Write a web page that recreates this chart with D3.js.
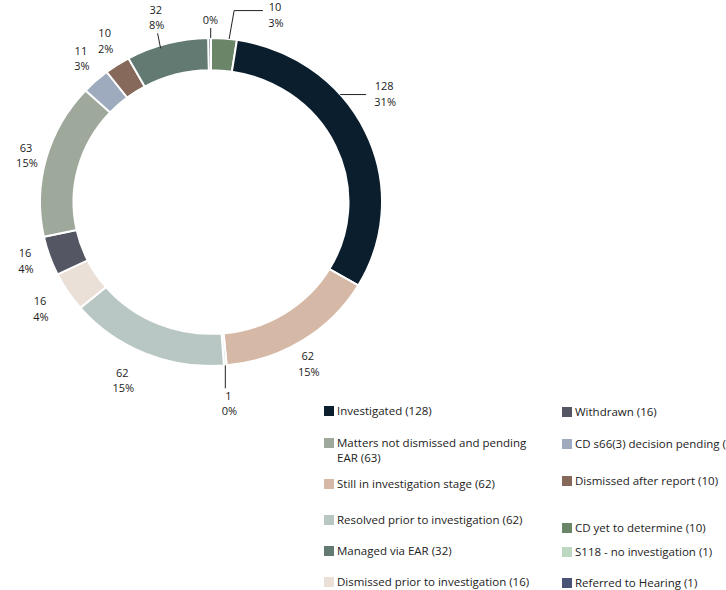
<!DOCTYPE html>
<html>
<head>
<meta charset="utf-8">
<script src="https://cdn.jsdelivr.net/npm/d3@7"></script>
<style>
  html, body { margin: 0; padding: 0; background: #ffffff; }
  svg { display: block; }
  text { font-family: "Open Sans", "Noto Sans", sans-serif; fill: #222; }
</style>
</head>
<body>
<svg id="chart" width="726" height="590"></svg>
<script>
// ---- data (slice order, clockwise from 12 o'clock) ----
const categories = [
  "CD yet to determine",
  "Investigated",
  "Still in investigation stage",
  "S118 - no investigation",
  "Resolved prior to investigation",
  "Dismissed prior to investigation",
  "Withdrawn",
  "Matters not dismissed and pending EAR",
  "CD s66(3) decision pending",
  "Dismissed after report",
  "Managed via EAR",
  "Referred to Hearing"
];
const values = [10, 128, 62, 1, 62, 16, 16, 63, 11, 10, 32, 1];
const percentLabels = ["3%", "31%", "15%", "0%", "15%", "4%", "4%", "15%", "3%", "2%", "8%", "0%"];
const colors = ["#6b8569", "#0b1e2d", "#d5b9a6", "#bcd8c0", "#b8c7c4", "#ebe0d8",
                "#545664", "#9fa99b", "#9eaabd", "#86695a", "#627a72", "#4a5275"];
// legend order (indices into categories), two columns
const legendCol1 = [1, 7, 2, 4, 10, 5];
const legendCol2 = [6, 8, 9, 0, 3, 11];

// ---- layout ----
const svg = d3.select("#chart");
const cx = 211, cy = 202, rOuter = 171, rInner = 137.5, yScale = 0.959;
const labelR = 196;
const labelNudge = [[49, 0], [-4, -28], [-8, 3], [1, 14], [-13, 5], [-7, 4],
                    [-1, -3], [4, 3], [2, -5], [1, -4], [-5, -3], [1, 6]];
const showValueLine = [true, true, true, true, true, true, true, true, true, true, true, false];

const pie = d3.pie().sort(null).value(d => d).startAngle(0).endAngle(2 * Math.PI);
const arcs = pie(values);
const arc = d3.arc().innerRadius(rInner).outerRadius(rOuter);
const labelArc = d3.arc().innerRadius(labelR).outerRadius(labelR);

const ring = svg.append("g").attr("transform", `translate(${cx},${cy}) scale(1,${yScale})`);
ring.selectAll("path").data(arcs).enter().append("path")
  .attr("d", arc)
  .attr("fill", (d, i) => colors[i])
  .attr("stroke", "#ffffff")
  .attr("stroke-width", 2);

// point on outer ring at a given angle (radians, clockwise from top)
function ringPoint(a, r) {
  return [cx + r * Math.sin(a), cy - r * yScale * Math.cos(a)];
}

// ---- data labels ----
const labelPos = arcs.map((d, i) => {
  const c = labelArc.centroid(d);
  return [cx + c[0] + labelNudge[i][0], cy + c[1] * yScale + labelNudge[i][1]];
});

const lblG = svg.append("g");
arcs.forEach((d, i) => {
  const [x, y] = labelPos[i];
  const t = lblG.append("text").attr("text-anchor", "middle").attr("font-size", 11);
  if (showValueLine[i]) {
    t.append("tspan").attr("x", x).attr("y", y - 3.5).text(values[i]);
    t.append("tspan").attr("x", x + 1).attr("y", y + 12).text(percentLabels[i]);
  } else {
    t.append("tspan").attr("x", x).attr("y", y + 4).text(percentLabels[i]);
  }
});

// ---- leader lines for displaced labels ----
const line = d3.line();
const leaders = svg.append("g").attr("fill", "none").attr("stroke", "#222").attr("stroke-width", 1);
function mid(d) { return (d.startAngle + d.endAngle) / 2; }
// CD yet to determine
(function () {
  const p0 = ringPoint(mid(arcs[0]) + 0.03, rOuter);
  const [lx, ly] = labelPos[0];
  leaders.append("path").attr("d", line([p0, [p0[0] + 5, ly - 4], [lx - 12, ly - 4]]));
})();
// Investigated: horizontal line from ring edge at label height
(function () {
  const [lx, ly] = labelPos[1];
  const yy = ly + 1;
  const dy = (yy - cy) / (rOuter * yScale);
  const xx = cx + rOuter * Math.sqrt(1 - dy * dy);
  leaders.append("path").attr("d", line([[xx, yy], [lx - 18, yy]]));
})();
// S118
(function () {
  const p0 = ringPoint(mid(arcs[3]), rOuter);
  const [lx, ly] = labelPos[3];
  leaders.append("path").attr("d", line([p0, [p0[0], ly - 15]]));
})();
// Managed via EAR
(function () {
  const p0 = ringPoint(mid(arcs[10]) - 0.04, rOuter);
  const [lx, ly] = labelPos[10];
  leaders.append("path").attr("d", line([[p0[0], p0[1] + 3], [p0[0] - 3, ly + 16]]));
})();
// Referred to Hearing
(function () {
  const p0 = ringPoint(mid(arcs[11]), rOuter);
  const [lx, ly] = labelPos[11];
  leaders.append("path").attr("d", line([[p0[0] + 1, p0[1]], [p0[0] + 1, ly + 8]]));
})();

// ---- legend ----
const legendCols = [
  { x: 324, rows: [411, 443, 484, 520, 551, 582], items: legendCol1 },
  { x: 562, rows: [412, 444, 481, 528, 552, 583], items: legendCol2 }
];
const lg = svg.append("g");
legendCols.forEach((col, ci) => {
  col.items.forEach((idx, r) => {
    const yc = col.rows[r];
    lg.append("rect")
      .attr("x", col.x).attr("y", yc - 5).attr("width", 10).attr("height", 10)
      .attr("fill", colors[idx]);
    const label = `${categories[idx]} (${values[idx]})`;
    const t = lg.append("text").attr("font-size", 11.5).attr("x", col.x + 13).attr("y", yc + 4);
    if (ci === 0) {
      // wrap at ~205px
      const words = label.split(" ");
      let lineWords = [];
      let ts = t.append("tspan").attr("x", col.x + 13).attr("y", yc + 4);
      let lineNo = 0;
      words.forEach(w => {
        lineWords.push(w);
        ts.text(lineWords.join(" "));
        if (ts.node().getComputedTextLength() > 205 && lineWords.length > 1) {
          lineWords.pop();
          ts.text(lineWords.join(" "));
          lineWords = [w];
          lineNo++;
          ts = t.append("tspan").attr("x", col.x + 13).attr("y", yc + 4 + lineNo * 15).text(w);
        }
      });
    } else {
      t.text(label);
    }
  });
});
</script>
</body>
</html>
